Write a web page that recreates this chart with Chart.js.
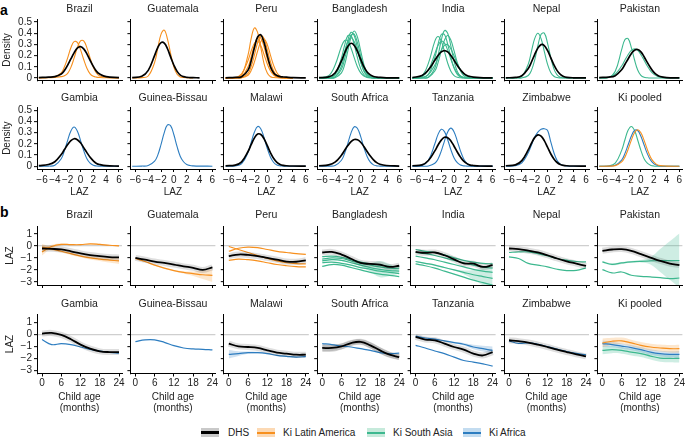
<!DOCTYPE html>
<html>
<head>
<meta charset="utf-8">
<script src="https://cdn.jsdelivr.net/npm/chart.js@4.4.1/dist/chart.umd.min.js"></script>
<style>
  body { margin: 0; background: #fff; width: 685px; height: 438px; position: relative; overflow: hidden;
         font-family: "Liberation Sans", Arial, Helvetica, sans-serif; color: #222; }
  .panel { position: absolute; }
  .tag { position: absolute; left: 0; font-weight: bold; font-size: 14px; line-height: 14px; color: #000; }
  .leg { position: absolute; top: 426px; font-size: 10px; line-height: 13px; white-space: nowrap; }
  .sw { position: absolute; top: 428px; width: 18px; height: 9px; }
  .sw i { position: absolute; left: 0; right: 0; top: 3px; height: 3px; }
</style>
</head>
<body>
<div class="tag" style="top:3px">a</div>
<div class="tag" style="top:205px">b</div>

<div class="sw" style="left:201px;background:#c9c9c9"><i style="background:#000"></i></div>
<div class="leg" style="left:228px">DHS</div>
<div class="sw" style="left:257px;background:#fcd9b4"><i style="background:#f7901e;height:2px;top:3.5px"></i></div>
<div class="leg" style="left:283px">Ki Latin America</div>
<div class="sw" style="left:367px;background:#c6eadb"><i style="background:#3db88f;height:2px;top:3.5px"></i></div>
<div class="leg" style="left:393px">Ki South Asia</div>
<div class="sw" style="left:463px;background:#c3dcf0"><i style="background:#2d7dc0;height:2px;top:3.5px"></i></div>
<div class="leg" style="left:489px">Ki Africa</div>

<script>
// ---------- axes ----------
const DENS_X = [-6.5, -5, -4, -3, -2.5, -2, -1.5, -1, -0.5, 0, 0.5, 1, 1.5, 2, 2.5, 3, 4, 6];
const MONTHS = [0, 3, 6, 9, 12, 15, 18, 21, 24];
const DENS_Y_TICKS = [0, 0.1, 0.2, 0.3, 0.4, 0.5];
const LAZ_X_TICKS = [-6, -4, -2, 0, 2, 4, 6];
const LAZ_Y_TICKS = [1, 0, -1, -2, -3];
const MONTH_TICKS = [0, 6, 12, 18, 24];

// ---------- a: LAZ densities (values at DENS_X) ----------
const brazilDhs = [.004,.008,.012,.035,.067,.115,.17,.224,.267,.28,.26,.216,.158,.104,.059,.035,.012,.003];
const brazilKi1 = [.003,.005,.012,.045,.1,.18,.27,.325,.318,.253,.165,.087,.037,.015,.008,.005,.002,0];
const brazilKi2 = [0,.002,.006,.012,.02,.042,.095,.177,.269,.331,.331,.269,.177,.095,.042,.018,.006,.001];
const guatDhs = [.003,.015,.068,.202,.274,.316,.311,.261,.186,.114,.059,.026,.012,.006,.004,.003,.002,null];
const guatKi = [.001,.003,.018,.14,.269,.392,.427,.348,.215,.098,.033,.009,.004,.002,.001,.001,null,null];
const peruDhs = [.002,.005,.012,.07,.157,.272,.367,.386,.316,.201,.1,.045,.022,.012,.009,.007,.004,.001];
const peruKi1 = [0,.001,.026,.206,.356,.447,.405,.268,.127,.044,.011,.004,.002,.001,0,0,0,null];
const peruKi2 = [0,.001,.014,.1,.193,.295,.363,.355,.277,.172,.086,.033,.01,.004,.002,.001,0,null];
const peruKi3 = [0,0,.003,.042,.106,.207,.317,.378,.351,.253,.143,.062,.021,.006,.002,.001,0,null];
const peruKi4 = [0,0,.002,.025,.068,.144,.242,.326,.348,.298,.202,.11,.047,.016,.005,.002,0,null];
const peruKi5 = [0,.004,.037,.157,.243,.31,.329,.288,.208,.125,.062,.026,.009,.003,.001,0,0,null];
const bgdDhs = [.003,.01,.045,.152,.223,.284,.31,.291,.237,.166,.1,.053,.028,.014,.008,.005,.002,.001];
const bgdKi1 = [.001,.021,.114,.282,.335,.329,.266,.18,.099,.046,.018,.005,.002,.001,0,0,0,0];
const bgdKi2 = [0,.002,.031,.179,.294,.378,.378,.294,.179,.084,.031,.009,.002,0,0,0,0,0];
const bgdKi3 = [0,.001,.011,.105,.216,.338,.408,.377,.266,.146,.06,.019,.005,.001,0,0,0,0];
const bgdKi4 = [0,0,.003,.046,.12,.242,.365,.42,.365,.242,.12,.046,.013,.003,.001,0,0,0];
const bgdKi5 = [0,.001,.008,.079,.172,.29,.382,.392,.313,.195,.094,.036,.01,.003,.001,0,0,0];
const bgdKi6 = [0,.002,.027,.143,.238,.324,.36,.324,.238,.143,.068,.027,.009,.002,0,0,0,0];
const indDhs = [.004,.022,.073,.158,.201,.233,.245,.233,.201,.158,.112,.073,.042,.022,.013,.008,.004,.001];
const indKi1 = [.001,.022,.133,.329,.37,.329,.236,.133,.061,.022,.006,.002,0,0,0,0,0,0];
const indKi2 = [0,0,.007,.09,.2,.337,.424,.4,.284,.15,.059,.017,.004,.001,0,0,0,0];
const indKi3 = [0,.002,.032,.183,.302,.388,.388,.302,.183,.086,.032,.009,.002,0,0,0,0,0];
const indKi4 = [0,.001,.006,.062,.137,.242,.338,.38,.338,.242,.137,.062,.022,.006,.002,0,0,0];
const indKi5 = [.001,.012,.071,.216,.291,.329,.312,.249,.167,.095,.045,.018,.006,.002,0,0,0,0];
const indKi6 = [0,.004,.03,.116,.182,.248,.292,.297,.259,.197,.127,.072,.035,.015,.005,.002,0,0];
const nplDhs = [.002,.005,.02,.085,.143,.209,.267,.298,.29,.246,.182,.117,.066,.032,.014,.006,.002,.001];
const nplKi1 = [0,.001,.016,.124,.238,.351,.4,.351,.238,.124,.05,.016,.004,.001,0,0,0,0];
const nplKi2 = [0,0,.001,.022,.068,.16,.288,.39,.401,.312,.185,.082,.028,.007,.002,0,0,0];
const pakDhs = [.004,.008,.021,.074,.12,.17,.217,.248,.254,.233,.19,.139,.092,.053,.028,.013,.004,.001];
const pakKi1 = [0,.005,.06,.253,.342,.352,.274,.163,.072,.024,.006,.002,0,0,0,0,0,0];
const pakKi2 = [.001,.007,.035,.107,.158,.208,.246,.26,.246,.208,.158,.107,.064,.035,.017,.007,.001,0];
const gmbDhs = [.005,.015,.04,.104,.149,.193,.228,.245,.237,.21,.166,.121,.08,.048,.025,.015,.005,.001];
const gmbKi = [0,.001,.008,.067,.139,.231,.315,.35,.315,.231,.139,.067,.027,.008,.002,.001,0,0];
const gnbKi = [0,.001,.006,.045,.101,.195,.3,.368,.36,.281,.174,.087,.04,.015,.006,.003,.001,0];
const mwiDhs = [.003,.01,.039,.131,.195,.253,.287,.283,.244,.183,.119,.068,.034,.015,.007,.004,.002,.001];
const mwiKi = [0,.002,.022,.124,.215,.305,.354,.333,.254,.158,.08,.033,.011,.003,.001,0,0,0];
const zafDhs = [.004,.012,.036,.098,.142,.184,.22,.238,.236,.214,.176,.132,.091,.057,.032,.017,.006,.001];
const zafKi = [0,.001,.006,.053,.115,.204,.298,.352,.337,.264,.167,.087,.036,.012,.003,.001,0,0];
const tzaDhs = [.004,.012,.051,.137,.189,.233,.258,.255,.226,.178,.127,.081,.045,.023,.01,.006,.002,.001];
const tzaKi1 = [0,.006,.053,.2,.284,.329,.309,.236,.147,.074,.031,.01,.003,.001,0,0,0,0];
const tzaKi2 = [0,0,.002,.026,.065,.135,.224,.306,.34,.306,.224,.135,.065,.026,.008,.002,0,0];
const zweDhs = [.004,.012,.05,.146,.205,.255,.279,.268,.228,.17,.111,.065,.033,.015,.007,.004,.002,.001];
const zweKi = [0,.004,.03,.12,.19,.26,.305,.33,.335,.32,.22,.12,.05,.018,.006,.002,0,0];
const poolKiLa = [0,.001,.005,.038,.081,.149,.231,.299,.326,.299,.231,.149,.081,.038,.014,.005,.001,0];
const poolKiAf = [0,.001,.008,.055,.112,.189,.267,.319,.319,.267,.189,.112,.055,.023,.008,.002,0,0];
const poolKiSa = [0,.002,.027,.141,.234,.32,.355,.32,.234,.141,.067,.027,.009,.002,0,0,0,0];

// ---------- b: mean LAZ by age (values at MONTHS) ----------
const brazilDhsLaz = [-0.22,-0.25,-0.3,-0.45,-0.62,-0.76,-0.86,-0.93,-0.96];
const brazilKiA = [-0.5,-0.05,0.12,0.1,0.1,0.17,0.12,0.05,0.0];
const brazilKiAHi = [-0.2,0.1,0.2,0.15,0.15,0.22,0.17,0.1,0.05];
const brazilKiALo = [-0.8,-0.2,0.04,0.05,0.05,0.12,0.07,0.0,-0.05];
const brazilKiB = [-0.1,-0.25,-0.45,-0.65,-0.85,-1.0,-1.1,-1.18,-1.25];
const brazilKiBHi = [0.15,-0.1,-0.35,-0.55,-0.75,-0.87,-0.95,-0.98,-1.0];
const brazilKiBLo = [-0.35,-0.4,-0.55,-0.75,-0.95,-1.13,-1.25,-1.38,-1.5];
const guatDhsLaz = [-1.0,-1.15,-1.3,-1.42,-1.55,-1.7,-1.82,-2.0,-1.78];
const guatKiLaz = [-1.05,-1.3,-1.6,-1.85,-2.05,-2.2,-2.3,-2.4,-2.45];
const guatKiHi = [-1.0,-1.25,-1.55,-1.8,-2.0,-2.1,-2.12,-2.05,-1.95];
const guatKiLo = [-1.1,-1.35,-1.65,-1.9,-2.1,-2.3,-2.5,-2.75,-3.0];
const peruDhsLaz = [-0.85,-0.72,-0.75,-0.85,-1.0,-1.15,-1.3,-1.32,-1.2];
const peruKiA = [-0.45,-0.2,-0.1,-0.15,-0.3,-0.45,-0.55,-0.65,-0.7];
const peruKiB = [-0.05,-0.3,-0.55,-0.8,-1.05,-1.25,-1.4,-1.48,-1.5];
const peruKiC = [-1.2,-1.1,-1.15,-1.25,-1.4,-1.55,-1.65,-1.72,-1.75];
const bgdDhsLaz = [-0.55,-0.5,-0.72,-1.07,-1.42,-1.5,-1.55,-1.75,-1.65];
const bgdKiA = [-0.9,-0.85,-0.95,-1.15,-1.35,-1.5,-1.6,-1.7,-1.75];
const bgdKiB = [-1.1,-1.0,-1.05,-1.25,-1.45,-1.6,-1.75,-1.85,-1.9];
const bgdKiC = [-1.25,-1.15,-1.2,-1.4,-1.6,-1.8,-1.95,-2.05,-2.1];
const bgdKiCHi = [-1.2,-1.1,-1.15,-1.35,-1.5,-1.45,-1.25,-1.5,-1.9];
const bgdKiCLo = [-1.3,-1.2,-1.25,-1.45,-1.7,-2.15,-2.6,-2.5,-2.3];
const bgdKiD = [-1.4,-1.35,-1.45,-1.6,-1.8,-1.95,-2.1,-2.2,-2.3];
const bgdKiE = [-1.7,-1.55,-1.6,-1.8,-2.0,-2.2,-2.35,-2.45,-2.55];
const indDhsLaz = [-0.5,-0.58,-0.55,-0.78,-1.12,-1.45,-1.48,-1.75,-1.6];
const indKiA = [-0.3,-0.45,-0.55,-0.75,-1.0,-1.2,-1.35,-1.45,-1.5];
const indKiB = [-0.55,-0.65,-0.8,-1.0,-1.2,-1.4,-1.6,-1.75,-1.85];
const indKiC = [-0.85,-1.0,-1.15,-1.35,-1.55,-1.75,-1.95,-2.1,-2.2];
const indKiD = [-1.3,-1.45,-1.6,-1.8,-2.0,-2.2,-2.4,-2.55,-2.7];
const indKiDHi = [-1.25,-1.4,-1.55,-1.75,-1.95,-2.05,-2.0,-1.8,-1.45];
const indKiDLo = [-1.35,-1.5,-1.65,-1.85,-2.05,-2.35,-2.8,-3.3,-3.9];
const indKiE = [-1.5,-1.65,-1.85,-2.1,-2.35,-2.6,-2.85,-3.05,-3.25];
const nplDhsLaz = [-0.22,-0.27,-0.4,-0.55,-0.78,-1.05,-1.28,-1.47,-1.67];
const nplKiA = [-0.55,-0.5,-0.5,-0.64,-0.83,-1.05,-1.19,-1.3,-1.33];
const nplKiB = [-0.91,-1.05,-1.45,-1.6,-1.75,-1.94,-2.05,-2.03,-1.83];
const pakDhsLaz = [-0.41,-0.3,-0.27,-0.41,-0.69,-0.97,-1.25,-1.47,-1.6];
const pakKiA = [-1.33,-1.53,-1.42,-1.33,-1.28,-1.25,-1.22,-1.22,-1.22];
const pakKiAHi = [-1.25,-1.45,-1.34,-1.25,-1.18,-0.95,-0.27,0.38,1.03];
const pakKiALo = [-1.41,-1.61,-1.5,-1.41,-1.38,-1.55,-2.17,-2.82,-3.47];
const pakKiB = [-1.97,-2.25,-2.17,-2.44,-2.53,-2.58,-2.64,-2.72,-2.67];
const gmbDhsLaz = [0.07,0.12,-0.05,-0.4,-0.85,-1.19,-1.41,-1.47,-1.47];
const gmbKiLaz = [-0.43,-0.85,-0.77,-0.85,-1.05,-1.24,-1.38,-1.49,-1.55];
const gnbKiLaz = [-0.6,-0.46,-0.46,-0.66,-0.94,-1.13,-1.21,-1.24,-1.29];
const mwiDhsLaz = [-0.77,-1.0,-1.05,-1.13,-1.33,-1.52,-1.6,-1.69,-1.69];
const mwiKiLaz = [-1.66,-1.6,-1.52,-1.52,-1.6,-1.75,-1.83,-1.89,-1.83];
const mwiKiHi = [-1.3,-1.4,-1.42,-1.45,-1.54,-1.69,-1.77,-1.82,-1.74];
const mwiKiLo = [-2.0,-1.8,-1.62,-1.59,-1.66,-1.81,-1.89,-1.96,-1.92];
const zafDhsLaz = [-1.13,-1.13,-1.0,-0.72,-0.62,-0.91,-1.33,-1.69,-1.89];
const zafDhsHi = [-0.8,-0.82,-0.75,-0.5,-0.4,-0.65,-1.08,-1.45,-1.65];
const zafDhsLo = [-1.46,-1.44,-1.25,-0.94,-0.85,-1.17,-1.58,-1.93,-2.13];
const zafKiLaz = [-0.77,-0.85,-0.97,-1.05,-1.19,-1.33,-1.52,-1.6,-1.55];
const tzaDhsLaz = [-0.21,-0.43,-0.49,-0.77,-1.05,-1.27,-1.6,-1.75,-1.47];
const tzaKiA = [-0.15,-0.3,-0.4,-0.54,-0.68,-0.82,-1.05,-1.19,-1.33];
const tzaKiAHi = [-0.1,-0.25,-0.35,-0.49,-0.62,-0.72,-0.87,-0.95,-1.0];
const tzaKiALo = [-0.2,-0.35,-0.45,-0.59,-0.74,-0.92,-1.23,-1.43,-1.66];
const tzaKiB = [-0.91,-1.13,-1.38,-1.6,-1.89,-2.17,-2.3,-2.45,-2.64];
const zweDhsLaz = [-0.49,-0.57,-0.68,-0.85,-1.05,-1.27,-1.47,-1.66,-1.83];
const zweKiLaz = [-0.54,-0.75,-0.7,-0.82,-1.02,-1.22,-1.42,-1.58,-1.7];
const poolLaLaz = [-0.71,-0.57,-0.54,-0.71,-0.91,-1.05,-1.13,-1.19,-1.19];
const poolLaHi = [-0.35,-0.28,-0.27,-0.44,-0.64,-0.77,-0.84,-0.88,-0.86];
const poolLaLo = [-1.07,-0.86,-0.81,-0.98,-1.18,-1.33,-1.42,-1.5,-1.52];
const poolAfLaz = [-0.77,-0.85,-0.97,-1.1,-1.27,-1.47,-1.6,-1.66,-1.66];
const poolAfHi = [-0.5,-0.62,-0.75,-0.88,-1.05,-1.24,-1.36,-1.4,-1.38];
const poolAfLo = [-1.04,-1.08,-1.19,-1.32,-1.49,-1.7,-1.84,-1.92,-1.94];
const poolSaLaz = [-1.33,-1.27,-1.33,-1.47,-1.6,-1.8,-1.97,-2.0,-2.0];
const poolSaHi = [-1.0,-0.98,-1.05,-1.19,-1.32,-1.51,-1.66,-1.68,-1.66];
const poolSaLo = [-1.66,-1.56,-1.61,-1.75,-1.88,-2.09,-2.28,-2.32,-2.34];

// ---------- styling / layout ----------
const FONT = '"Liberation Sans", Arial, Helvetica, sans-serif';
const LA = '#f7901e', SA = '#3db88f', AF = '#2d7dc0';
const FILL = { [LA]: 'rgba(247,144,30,0.22)', [SA]: 'rgba(61,184,143,0.25)', [AF]: 'rgba(45,125,192,0.22)', gray: 'rgba(0,0,0,0.16)' };
const COL_LEFT = 37, COL_STEP = 93.4, PLOT_W = 85;
const ROWS = {
  a1: { title: 9.5, top: 19.2, bottom: 80.8, under: 10 },
  a2: { title: 98.3, top: 107.4, bottom: 169, under: 30, tickY: 180.5, axisY: 192 },
  b1: { title: 216, top: 226, bottom: 285, under: 10 },
  b2: { title: 304.5, top: 314.5, bottom: 373.5, under: 42, tickY: 383, axisY: 408.5 }
};

Chart.defaults.font.family = FONT;
Chart.defaults.font.size = 10;
Chart.defaults.color = '#222';

const fmt = v => (v < 0 ? '\u2212' + Math.abs(v) : String(v));
const pts = (xs, ys) => xs.map((x, i) => ({ x, y: ys[i] })).filter(p => p.y !== null);

function line(xs, ys, color, width) {
  return { data: pts(xs, ys), borderColor: color, borderWidth: width, pointRadius: 0, tension: 0.4, fill: false };
}
function band(xs, hi, lo, color) {
  return [
    { data: pts(xs, hi), borderColor: 'rgba(0,0,0,0)', borderWidth: 1, pointRadius: 0, tension: 0.4, fill: '+1', backgroundColor: color },
    { data: pts(xs, lo), borderColor: 'rgba(0,0,0,0)', borderWidth: 1, pointRadius: 0, tension: 0.4, fill: false }
  ];
}

function addPanel(p, isB) {
  const r = ROWS[p.row];
  const plotLeft = COL_LEFT + COL_STEP * p.col;
  const boxLeft = p.col === 0 ? 0 : Math.floor(plotLeft - 10);
  const leftPad = plotLeft - boxLeft;
  const boxTop = Math.floor(r.title - 6.3);
  const boxW = Math.ceil(leftPad + PLOT_W + 8);
  const rightPad = boxW - leftPad - PLOT_W;
  const boxH = Math.ceil(r.bottom + r.under - boxTop);
  const under = boxH - (r.bottom - boxTop);
  const bottomRow = r.tickY !== undefined;

  const wrap = document.createElement('div');
  wrap.className = 'panel';
  wrap.style.left = boxLeft + 'px';
  wrap.style.top = boxTop + 'px';
  wrap.style.width = boxW + 'px';
  wrap.style.height = boxH + 'px';
  const canvas = document.createElement('canvas');
  wrap.appendChild(canvas);
  document.body.appendChild(wrap);

  const xTitle = isB ? ['Child age', '(months)'] : 'LAZ';
  const xTitleLh = isB ? 11.5 : 12;
  const xTitlePad = bottomRow ? boxH - xTitleLh / 2 - (r.axisY - boxTop) : 0;
  const tickPad = bottomRow ? r.tickY - r.bottom - 3 - 6 : 0;

  new Chart(canvas, {
    type: 'line',
    data: { datasets: p.datasets },
    options: {
      responsive: true,
      maintainAspectRatio: false,
      animation: false,
      events: [],
      layout: { padding: { left: 0, top: 0, right: rightPad, bottom: 0 } },
      plugins: {
        legend: { display: false },
        tooltip: { enabled: false },
        title: {
          display: true, text: p.title, fullSize: false, color: '#222',
          font: { size: 10.5, weight: 'normal', lineHeight: '12.6px' },
          padding: { top: 0, bottom: r.top - boxTop - 12.6 }
        }
      },
      scales: {
        x: {
          type: 'linear',
          min: isB ? -1.56 : -6.78,
          max: isB ? 24.93 : 6.47,
          afterBuildTicks: s => { s.ticks = (isB ? MONTH_TICKS : LAZ_X_TICKS).map(v => ({ value: v })); },
          afterFit: s => { s.height = under; },
          grid: { drawOnChartArea: false, drawTicks: true, tickLength: 3, tickColor: '#000', tickWidth: 1 },
          border: { display: true, color: '#000', width: 1 },
          ticks: { display: bottomRow, padding: tickPad, maxRotation: 0, autoSkip: false, color: '#222',
                   font: { size: 10 }, callback: v => fmt(v) },
          title: { display: bottomRow, text: xTitle, color: '#222',
                   font: { size: 10, lineHeight: xTitleLh + 'px' }, padding: { top: 0, bottom: xTitlePad } }
        },
        y: {
          type: 'linear',
          min: isB ? -3.25 : -0.025,
          max: isB ? 1.65 : 0.525,
          afterBuildTicks: s => { s.ticks = (isB ? LAZ_Y_TICKS : DENS_Y_TICKS).map(v => ({ value: v })); },
          afterFit: s => { s.width = leftPad; },
          grid: {
            drawOnChartArea: isB, drawTicks: true, tickLength: 3, tickColor: '#000', tickWidth: 1,
            lineWidth: 1.3,
            color: c => (c.tick && c.tick.value === 0 ? '#cfcfcf' : 'rgba(0,0,0,0)')
          },
          border: { display: true, color: '#000', width: 1 },
          ticks: { display: p.col === 0, padding: 2, autoSkip: false, color: '#222',
                   font: { size: 10 }, callback: v => fmt(v) },
          title: { display: p.col === 0, text: isB ? 'LAZ' : 'Density', color: '#222',
                   font: { size: 10, lineHeight: 1.2 }, padding: { top: isB ? 4.5 : 1, bottom: 0 } }
        }
      }
    }
  });
}

// density panels
function densPanel(row, col, title, dhs, kis, color) {
  const ds = [];
  if (dhs) ds.push(line(DENS_X, dhs, '#000', 1.7));
  kis.forEach((k, i) => ds.push(line(DENS_X, k, Array.isArray(color) ? color[i] : color, 1.1)));
  addPanel({ row, col, title, datasets: ds }, false);
}

densPanel('a1', 0, 'Brazil', brazilDhs, [brazilKi1, brazilKi2], LA);
densPanel('a1', 1, 'Guatemala', guatDhs, [guatKi], LA);
densPanel('a1', 2, 'Peru', peruDhs, [peruKi1, peruKi2, peruKi3, peruKi4, peruKi5], LA);
densPanel('a1', 3, 'Bangladesh', bgdDhs, [bgdKi1, bgdKi2, bgdKi3, bgdKi4, bgdKi5, bgdKi6], SA);
densPanel('a1', 4, 'India', indDhs, [indKi1, indKi2, indKi3, indKi4, indKi5, indKi6], SA);
densPanel('a1', 5, 'Nepal', nplDhs, [nplKi1, nplKi2], SA);
densPanel('a1', 6, 'Pakistan', pakDhs, [pakKi1, pakKi2], SA);
densPanel('a2', 0, 'Gambia', gmbDhs, [gmbKi], AF);
densPanel('a2', 1, 'Guinea-Bissau', null, [gnbKi], AF);
densPanel('a2', 2, 'Malawi', mwiDhs, [mwiKi], AF);
densPanel('a2', 3, 'South Africa', zafDhs, [zafKi], AF);
densPanel('a2', 4, 'Tanzania', tzaDhs, [tzaKi1, tzaKi2], AF);
densPanel('a2', 5, 'Zimbabwe', zweDhs, [zweKi], AF);
densPanel('a2', 6, 'Ki pooled', null, [poolKiLa, poolKiAf, poolKiSa], [LA, AF, SA]);

// growth panels
function lazPanel(row, col, title, dhs, kis, color, bands, dhsBand) {
  const ds = [];
  if (dhs) {
    ds.push(line(MONTHS, dhs, '#000', 1.8));
    ds.push(line(MONTHS, dhs, 'rgba(0,0,0,0.13)', 6));
  }
  kis.forEach((k, i) => ds.push(line(MONTHS, k, Array.isArray(color) ? color[i] : color, 1.2)));
  (bands || []).forEach(b => ds.push(...band(MONTHS, b[0], b[1], FILL[b[2]])));
  if (dhsBand) ds.push(...band(MONTHS, dhsBand[0], dhsBand[1], FILL.gray));
  addPanel({ row, col, title, datasets: ds }, true);
}

lazPanel('b1', 0, 'Brazil', brazilDhsLaz, [brazilKiA, brazilKiB], LA,
  [[brazilKiAHi, brazilKiALo, LA], [brazilKiBHi, brazilKiBLo, LA]]);
lazPanel('b1', 1, 'Guatemala', guatDhsLaz, [guatKiLaz], LA, [[guatKiHi, guatKiLo, LA]]);
lazPanel('b1', 2, 'Peru', peruDhsLaz, [peruKiA, peruKiB, peruKiC], LA);
lazPanel('b1', 3, 'Bangladesh', bgdDhsLaz, [bgdKiA, bgdKiB, bgdKiC, bgdKiD, bgdKiE], SA, [[bgdKiCHi, bgdKiCLo, SA]]);
lazPanel('b1', 4, 'India', indDhsLaz, [indKiA, indKiB, indKiC, indKiD, indKiE], SA, [[indKiDHi, indKiDLo, SA]]);
lazPanel('b1', 5, 'Nepal', nplDhsLaz, [nplKiA, nplKiB], SA);
lazPanel('b1', 6, 'Pakistan', pakDhsLaz, [pakKiA, pakKiB], SA, [[pakKiAHi, pakKiALo, SA]]);
lazPanel('b2', 0, 'Gambia', gmbDhsLaz, [gmbKiLaz], AF);
lazPanel('b2', 1, 'Guinea-Bissau', null, [gnbKiLaz], AF);
lazPanel('b2', 2, 'Malawi', mwiDhsLaz, [mwiKiLaz], AF, [[mwiKiHi, mwiKiLo, AF]]);
lazPanel('b2', 3, 'South Africa', zafDhsLaz, [zafKiLaz], AF, [], [zafDhsHi, zafDhsLo]);
lazPanel('b2', 4, 'Tanzania', tzaDhsLaz, [tzaKiA, tzaKiB], AF, [[tzaKiAHi, tzaKiALo, AF]]);
lazPanel('b2', 5, 'Zimbabwe', zweDhsLaz, [zweKiLaz], AF);
lazPanel('b2', 6, 'Ki pooled', null, [poolLaLaz, poolAfLaz, poolSaLaz], [LA, AF, SA],
  [[poolLaHi, poolLaLo, LA], [poolAfHi, poolAfLo, AF], [poolSaHi, poolSaLo, SA]]);
</script>
</body>
</html>
